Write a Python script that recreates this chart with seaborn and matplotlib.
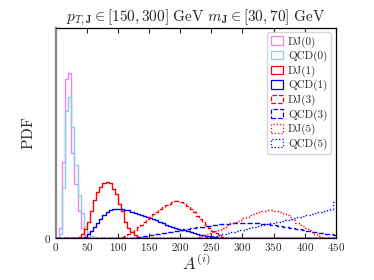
import numpy as np
import pandas as pd
import matplotlib
matplotlib.use('Agg')
import matplotlib.pyplot as plt
import matplotlib.patches as mpatches
import seaborn as sns

# histogram bins: width 5 from 0 to 450
bin_width = 5
x_max = 450

# bin heights (arbitrary PDF units), each series starts at *_start
dj0_start = 5
dj0 = [10, 76, 159, 165, 85, 54, 27, 10, 3]
qcd0_start = 5
qcd0 = [4, 50, 127, 141, 111, 73, 43, 25, 11, 5, 2]

dj1_start = 35
dj1 = [1, 4, 9, 16, 27, 38, 46, 51, 55, 56, 55, 49, 44, 34, 27, 16, 10, 6, 3, 1]
qcd1_start = 40
qcd1 = [0.5, 1.5, 4, 7, 11, 15, 19, 23, 26, 28, 29, 29, 29, 29, 28.5, 28, 26.5, 25.5,
        24.5, 23, 22, 21, 20, 19, 18, 16.5, 15, 13.5, 12.5, 11.5, 10.5, 9.5, 8.5, 8,
        7, 6, 5, 4.5, 3.5, 3, 2.5, 2, 1.5, 1, 0.5, 0.3]

dj3_start = 100
dj3 = [0.3, 1, 2, 4, 6, 8.5, 11, 13.5, 16, 19, 21.5, 24, 26.5, 29, 31, 33, 34.5, 36,
       37, 37, 36.5, 35, 32.5, 29.5, 26, 22, 19, 16, 13, 10.5, 7.5, 5, 3, 1.5, 0.5]
qcd3_start = 115
qcd3 = [0.3, 0.5, 0.8, 1.1, 1.5, 2, 2.5, 3, 3.5, 4, 4.4, 5, 5.5, 6, 6.4, 7, 7.5, 8,
        8.6, 9, 9.6, 10, 10.6, 11, 11.5, 12.1, 12.5, 13, 13.3, 13.7, 14, 14.2, 14.5,
        14.6, 14.8, 14.9, 15, 15, 15.1, 15, 14.9, 14.8, 14.6, 14.4, 14.1, 13.8, 13.4,
        13, 12.5, 12, 11.5, 11, 10.4, 9.8, 9.2, 8.6, 8, 7.4, 6.8, 6.3, 5.8, 5.3, 4.8,
        4.4, 4, 3.6, 3.3]

dj5_start = 225
dj5 = [0.3, 1.5, 3, 4, 5, 6, 7, 8.5, 10, 11.5, 13.5, 15.5, 16.5, 17.5, 18.5, 20, 21.5,
       23, 24.5, 25.5, 26.5, 27, 27.5, 28, 28, 27.5, 27, 26, 24.5, 23, 21.5, 18, 15.5,
       13.5, 12, 10, 8, 6, 4, 2.5, 1, 0.4]
qcd5_start = 230
qcd5 = [0.3, 0.5, 0.8, 1.2, 1.7, 2.3, 3, 3.7, 4.3, 5.1, 5.8, 6.4, 7.2, 7.9, 8.5, 9.3,
        10, 10.8, 11.4, 12, 12.8, 13.6, 14.2, 14.9, 15.7, 16.3, 17, 17.8, 18.4, 19.1,
        19.8, 20.6, 21.2, 21.9, 22.6, 23.2, 24, 24.8, 25.6, 26.4, 27.2, 28, 29, 36]

labels = ['DJ(0)', 'QCD(0)', 'DJ(1)', 'QCD(1)', 'DJ(3)', 'QCD(3)', 'DJ(5)', 'QCD(5)']
colors = ['violet', 'skyblue', 'red', 'blue', 'red', 'blue', 'red', 'blue']
styles = ['-', '-', '-', '-', '--', '--', ':', ':']
series = [(dj0_start, dj0), (qcd0_start, qcd0), (dj1_start, dj1), (qcd1_start, qcd1),
          (dj3_start, dj3), (qcd3_start, qcd3), (dj5_start, dj5), (qcd5_start, qcd5)]

centers = np.arange(0, x_max, bin_width) + bin_width / 2


def full_heights(start, vals):
    h = np.zeros(len(centers))
    i = int(start // bin_width)
    h[i:i + len(vals)] = vals[:len(centers) - i]
    return h


sns.set_style('ticks')
plt.rcParams['font.family'] = 'serif'
plt.rcParams['font.serif'] = ['cmr10', 'DejaVu Serif']
plt.rcParams['mathtext.fontset'] = 'cm'
plt.rcParams['axes.formatter.use_mathtext'] = True

fig, ax = plt.subplots(figsize=(3.74, 2.8), dpi=100)
fig.subplots_adjust(left=0.149, right=0.898, bottom=0.15, top=0.9)

handles = []
for (start, vals), lab, c, ls in zip(series, labels, colors, styles):
    df = pd.DataFrame({'A': centers, 'pdf': full_heights(start, vals)})
    sns.histplot(data=df, x='A', weights='pdf', binwidth=bin_width, binrange=(0, x_max),
                 element='step', fill=False, color=c, linestyle=ls, linewidth=1.0, ax=ax)
    handles.append(mpatches.Patch(facecolor='none', edgecolor=c, linestyle=ls,
                                  linewidth=0.9, label=lab))

ax.set_xlim(0, x_max)
ax.set_ylim(0, 210)
ax.set_xticks(np.arange(0, 451, 50))
ax.set_xticklabels([f'${v}$' for v in range(0, 451, 50)])
ax.set_yticks([0])
ax.set_yticklabels(['$0$'])
ax.tick_params(axis='x', direction='in', top=True, length=3.5, width=0.8, labelsize=8, pad=2)
ax.tick_params(axis='y', direction='in', length=0, labelsize=8, pad=3)

for s in ['top', 'right', 'bottom']:
    ax.spines[s].set_color('black')
    ax.spines[s].set_linewidth(0.9)
ax.spines['left'].set_color('#888888')
ax.spines['left'].set_linewidth(1.6)

ax.set_xlabel(r'$A^{(i)}$', fontsize=12, labelpad=0)
ax.set_ylabel(r'$\mathrm{PDF}$', fontsize=11, labelpad=6)
ax.set_title(r'$p_{T,\mathbf{J}}\in[150,300]\ \mathrm{GeV}\ m_{\mathbf{J}}\in[30,70]\ \mathrm{GeV}$',
             fontsize=11, pad=5)

ax.legend(handles=handles, loc='upper right', fontsize=8, handlelength=1.1,
          handleheight=0.8, handletextpad=0.45, labelspacing=0.3, borderpad=0.35,
          borderaxespad=0.4, frameon=True, edgecolor='0.8', fancybox=True)

fig.savefig('out.png', dpi=100)
